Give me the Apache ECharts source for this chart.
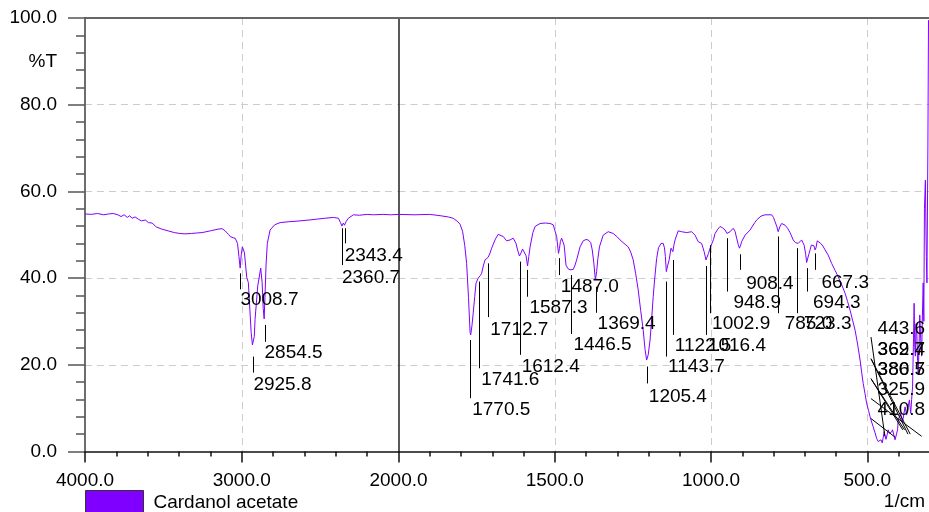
<!DOCTYPE html>
<html><head><meta charset="utf-8">
<script src="https://cdn.jsdelivr.net/npm/echarts@6/dist/echarts.min.js"></script>
<style>html,body{margin:0;padding:0;background:#fff}#c{width:929px;height:512px}</style>
</head><body><div id="c"></div>
<script>
// ---------- data ----------
const seriesName = 'Cardanol acetate';
const wavenumbers = [
4000,3960,3920,3880,3850,3820,3790,3770,3750,3730,3715,3700,3680,3660,3640,3615,3595,3572,3545,3510,
3470,3430,3395,3362,3320,3290,3253,3200,3151,3125,3106,3085,3074,3055,3042,3027,3018,3010,3003,2996,
2983,2968,2958,2951,2940,2932,2927,2920,2915,2898,2879,2870,2863,2857,2851,2845,2837,2819,2790,2755,
2700,2628,2570,2521,2470,2415,2383,2370,2361,2352,2344,2335,2320,2288,2250,2200,2160,2100,2050,2000,
1950,1900,1867,1840,1825,1810,1803,1795,1788,1782,1776,1771,1769,1765,1761,1756,1752,1745,1738,1734,
1728,1723,1713,1707,1702,1690,1681,1672,1665,1654,1648,1643,1633,1628,1624,1619,1613,1608,1603,1597,
1592,1587,1583,1579,1570,1563,1547,1530,1515,1505,1499,1494,1488,1485,1482,1478,1474,1470,1464,1458,
1451,1445,1441,1435,1430,1419,1409,1400,1393,1385,1380,1375,1370,1366,1362,1357,1345,1329,1313,1300,
1291,1275,1265,1257,1249,1241,1233,1225,1217,1211,1206,1201,1195,1190,1185,1180,1174,1168,1160,1153,
1149,1146,1143,1139,1134,1128,1122,1119,1115,1105,1094,1078,1062,1051,1041,1030,1022,1016,1012,1008,
1003,998,992,987,978,971,963,955,949,944,939,929,923,918,913,909,905,902,891,875,
860,854,840,827,806,800,795,789,785,780,774,768,763,755,747,737,730,724,721,717,
710,706,702,697,694,691,687,683,679,675,671,667,664,660,655,649,642,635,625,614,
603,593,582,571,563,555,547,539,531,523,518,513,507,502,496,491,486,481,475,470,
465,462,459,456,452,449,446,443,440,436,433,429,425,422,419,415,411,406,403,401,
397,393,390,387,383,379,376,374,370,365,363,361,358,355,352,350,348,346,344,342,
339,337,334,332,329,326,324,321,319,317,314,311,309,306,304];
const transmittance = [
54.8,54.7,54.9,54.6,54.8,54.9,54.6,54.2,54.6,54.0,54.4,53.8,54.1,53.6,53.2,53.4,52.8,52.7,51.8,51.3,
50.9,50.5,50.3,50.2,50.3,50.4,50.5,50.9,51.3,51.4,50.9,50.1,49.6,49.3,49.2,48.0,45.0,42.3,45.5,47.2,
45.9,40.1,39.0,34.5,27.5,24.6,24.2,26.5,30.5,38.2,42.3,39.0,33.0,30.6,36.5,43.0,48.0,51.1,52.3,52.8,
53.0,53.2,53.4,53.6,53.8,54.0,53.8,52.8,52.0,52.7,52.2,53.0,53.8,54.6,54.5,54.7,54.6,54.7,54.6,54.7,
54.6,54.7,54.4,54.1,53.8,53.0,52.4,50.8,47.5,43.4,35.5,27.5,26.9,29.0,31.9,35.8,38.8,40.0,40.6,41.1,
43.0,44.2,44.8,45.8,46.9,49.0,50.1,49.8,49.6,48.6,49.0,48.8,49.2,48.8,48.0,46.5,45.1,45.8,46.7,46.3,
45.2,42.8,45.0,47.2,50.5,51.9,52.6,52.7,52.6,52.3,51.9,49.6,45.7,46.8,48.4,49.2,48.8,47.6,43.0,42.2,
41.9,41.8,42.0,43.0,44.2,47.2,48.6,48.9,48.8,48.2,46.5,43.5,39.6,41.5,44.5,47.2,49.9,50.7,50.3,49.5,
48.8,47.8,47.2,46.0,44.2,41.0,37.3,32.5,28.0,23.5,21.1,22.3,25.7,30.5,35.7,40.0,44.5,47.0,48.0,48.0,
47.0,45.0,41.5,42.8,44.2,46.9,46.1,47.5,48.8,50.9,50.7,50.5,50.7,49.9,48.4,48.0,46.1,44.2,44.6,45.7,
46.9,47.2,48.9,50.3,51.3,51.9,51.6,51.1,50.3,50.6,50.7,51.5,50.8,49.2,47.8,46.9,47.6,48.4,49.9,51.1,
52.8,53.4,54.3,54.6,54.6,54.0,53.0,51.8,50.7,51.8,52.6,52.5,52.2,51.5,50.5,48.8,48.2,47.8,48.0,48.4,
48.8,48.4,47.6,45.5,43.6,44.0,45.5,46.5,47.6,48.0,47.5,46.5,47.0,48.6,48.5,48.0,47.4,46.5,45.3,43.4,
41.8,40.3,38.5,36.5,34.6,32.6,30.3,28.0,24.8,21.1,18.3,15.7,13.3,11.1,9.5,8.0,6.8,5.7,4.3,3.0,
2.3,2.0,2.4,2.7,2.0,3.2,4.6,3.6,2.8,4.0,5.0,4.2,3.8,4.5,5.0,3.8,2.7,2.5,5.0,7.3,
8.0,8.8,7.8,6.9,8.6,10.3,9.2,8.4,10.2,11.9,10.2,8.8,12.0,14.9,26.0,34.2,24.0,22.0,29.5,28.8,
21.0,18.0,25.0,31.5,26.0,22.0,30.0,38.9,30.0,56.0,62.6,45.0,38.9,70.0,99.5];

// labelled peaks (vertical tick from tickTop to tickBottom, label centred at labelLevel, all in %T)
const peakWavenumbers = [3008.7,2925.8,2854.5,2360.7,2343.4,1770.5,1741.6,1712.7,1612.4,1587.3,1487.0,1446.5,1369.4,1205.4,1143.7,1122.5,1016.4,1002.9,948.9,908.4,785.0,723.3,694.3,667.3];
const peakLabels = ['3008.7','2925.8','2854.5','2360.7','2343.4','1770.5','1741.6','1712.7','1612.4','1587.3','1487.0','1446.5','1369.4','1205.4','1143.7','1122.5','1016.4','1002.9','948.9','908.4','785.0','723.3','694.3','667.3'];
const peakTickTop = [41.1,21.9,29.2,51.5,51.5,25.7,39.2,43.4,43.8,41.9,44.6,40.7,38.0,19.6,39.2,44.2,42.8,47.6,49.2,45.5,49.6,46.9,42.3,45.7];
const peakTickBottom = [37.4,18.2,25.3,43.0,48.0,12.3,19.2,31.0,22.3,35.7,40.7,27.1,32.0,15.7,21.9,26.9,26.9,31.9,36.9,41.9,31.9,31.9,36.9,41.9];
const peakLabelLevel = [34.9,15.3,22.8,40.0,45.1,9.6,16.6,28.0,19.6,33.2,38.0,24.6,29.4,12.6,19.5,24.3,24.3,29.4,34.3,38.8,29.4,29.4,34.2,38.9];

// crowded low-frequency peaks with slanted leader lines
const crowdWavenumbers = [443.6,369.7,362.4,386.5,380.7,325.9,410.8];
const crowdLabels = ['443.6','369.7','362.4','386.5','380.7','325.9','410.8'];
const crowdPeakLevel = [3.5,4.0,4.0,5.0,5.0,3.5,3.3];
const crowdLabelLevel = [28.4,23.4,23.4,18.8,18.8,14.2,9.6];

// ---------- chart ----------
const FONT = '"Liberation Sans", Arial, Helvetica, sans-serif';
const BREAK = 2000;
const ANCHOR_WN = 488;   // where crowded leader lines start
const CROWD_TEXT_WN = 467;

const pts = wavenumbers.map((w, i) => [w, transmittance[i]]);
const leftData = pts.filter(p => p[0] >= BREAK);
const rightData = pts.filter(p => p[0] <= BREAK);

const peakItems = peakWavenumbers.map((w, i) => [w, peakTickTop[i], peakTickBottom[i], peakLabelLevel[i], i]);
const crowdItems = crowdWavenumbers.map((w, i) => [w, crowdPeakLevel[i], crowdLabelLevel[i], i]);

function textStyle(txt, x, y) {
  return {text: txt, x: x, y: y, fill: '#000', font: '19px ' + FONT,
          textAlign: 'left', textVerticalAlign: 'middle', align: 'left', verticalAlign: 'middle'};
}
function peakItem(params, api) {
  const wn = api.value(0), i = api.value(4);
  const a = api.coord([wn, api.value(1)]);
  const b = api.coord([wn, api.value(2)]);
  const t = api.coord([wn, api.value(3)]);
  const x = Math.round(a[0]) + 0.5;
  const dx = wn >= 2000 ? 0 : (wn >= 1000 ? 2 : 6.5);
  return {type: 'group', children: [
    {type: 'line', shape: {x1: x, y1: a[1], x2: x, y2: b[1]}, style: {stroke: '#000', lineWidth: 1}},
    {type: 'text', style: textStyle(peakLabels[i], t[0] + dx, t[1])}
  ]};
}
function crowdItem(params, api) {
  const wn = api.value(0), i = api.value(3);
  const p = api.coord([wn, api.value(1)]);
  const a = api.coord([ANCHOR_WN, api.value(2) - 2]);
  const t = api.coord([CROWD_TEXT_WN, api.value(2)]);
  return {type: 'group', children: [
    {type: 'line', shape: {x1: a[0], y1: a[1], x2: p[0], y2: p[1]}, style: {stroke: '#000', lineWidth: 1}},
    {type: 'text', style: textStyle(crowdLabels[i], t[0], t[1])}
  ]};
}

const dashed = {color: '#cccccc', type: [7, 5], width: 1};
const tickStyle = {color: '#111', width: 1.5};
function bottomAxis(grid, min, max, interval, hide) {
  return {
    gridIndex: grid, type: 'value', min: min, max: max, interval: interval, inverse: true, position: 'bottom',
    axisLine: {show: true, onZero: false, lineStyle: {color: '#111', width: 1.5}},
    axisTick: {show: true, length: 11, lineStyle: tickStyle},
    minorTick: {show: true, splitNumber: 5, length: 5, lineStyle: tickStyle},
    axisLabel: {margin: 20, fontSize: 19, color: '#000', fontFamily: FONT, showMinLabel: true, showMaxLabel: true,
      formatter: v => hide.indexOf(v) >= 0 ? '' : v.toFixed(1)},
    splitLine: {show: true, showMinLine: false, showMaxLine: false, lineStyle: dashed}
  };
}
function topAxis(grid, min, max) {
  return {gridIndex: grid, type: 'value', min: min, max: max, inverse: true, position: 'top',
    axisLine: {show: true, onZero: false, lineStyle: {color: '#666', width: 2}},
    axisTick: {show: false}, axisLabel: {show: false}, splitLine: {show: false}};
}

const chart = echarts.init(document.getElementById('c'), null, {renderer: 'canvas'});
chart.setOption({
  animation: false,
  backgroundColor: '#fff',
  grid: [
    {left: 85, top: 18, width: 313.5, height: 433.5, containLabel: false, outerBoundsMode: 'none'},
    {left: 398.5, top: 18, width: 625, height: 433.5, containLabel: false, outerBoundsMode: 'none'}
  ],
  xAxis: [
    bottomAxis(0, BREAK, 4000, 1000, []),
    bottomAxis(1, 0, BREAK, 500, [0, BREAK]),
    topAxis(0, BREAK, 4000),
    topAxis(1, 0, BREAK)
  ],
  yAxis: [
    {gridIndex: 0, type: 'value', min: 0, max: 100, interval: 20,
      axisLine: {show: true, onZero: false, lineStyle: {color: '#6e6e6e', width: 2}},
      axisTick: {show: true, length: 17, lineStyle: {color: '#555', width: 1.5}},
      minorTick: {show: true, splitNumber: 5, length: 9, lineStyle: {color: '#555', width: 1.5}},
      axisLabel: {margin: 28, fontSize: 19, color: '#000', fontFamily: FONT, formatter: v => v.toFixed(1)},
      splitLine: {show: true, showMinLine: false, showMaxLine: false, lineStyle: dashed}},
    {gridIndex: 1, type: 'value', min: 0, max: 100, interval: 20,
      axisLine: {show: true, onZero: false, lineStyle: {color: '#222', width: 1.5}},
      axisTick: {show: false}, axisLabel: {show: false},
      splitLine: {show: true, showMinLine: false, showMaxLine: false, lineStyle: dashed}}
  ],
  legend: {
    left: 85, top: 490, padding: 0, itemWidth: 58, itemHeight: 24,
    data: [{name: seriesName, icon: 'rect'}],
    itemStyle: {color: '#8000ff', borderColor: '#333', borderWidth: 1},
    textStyle: {fontSize: 19, color: '#000', fontFamily: FONT, padding: [0, 0, 0, 5]},
    selectedMode: false
  },
  graphic: [
    {type: 'text', x: 57, y: 62, style: {text: '%T', fill: '#000', font: '19px ' + FONT, textAlign: 'right', textVerticalAlign: 'middle', align: 'right', verticalAlign: 'middle'}},
    {type: 'text', x: 925, y: 502, style: {text: '1/cm', fill: '#000', font: '19px ' + FONT, textAlign: 'right', textVerticalAlign: 'middle', align: 'right', verticalAlign: 'middle'}}
  ],
  series: [
    {name: seriesName, type: 'line', xAxisIndex: 0, yAxisIndex: 0, data: leftData, showSymbol: false, symbol: 'none',
      lineStyle: {color: '#8000ff', width: 1}, itemStyle: {color: '#8000ff'}, z: 3},
    {name: seriesName, type: 'line', xAxisIndex: 1, yAxisIndex: 1, data: rightData, showSymbol: false, symbol: 'none',
      lineStyle: {color: '#8000ff', width: 1}, itemStyle: {color: '#8000ff'}, z: 3},
    {type: 'custom', xAxisIndex: 0, yAxisIndex: 0, renderItem: peakItem, data: peakItems.filter(d => d[0] > BREAK), encode: {x: 0, y: 1}, z: 4, silent: true},
    {type: 'custom', xAxisIndex: 1, yAxisIndex: 1, renderItem: peakItem, data: peakItems.filter(d => d[0] < BREAK), encode: {x: 0, y: 1}, z: 4, silent: true},
    {type: 'custom', xAxisIndex: 1, yAxisIndex: 1, renderItem: crowdItem, data: crowdItems, encode: {x: 0, y: 1}, z: 4, silent: true}
  ]
});
</script>
</body></html>
